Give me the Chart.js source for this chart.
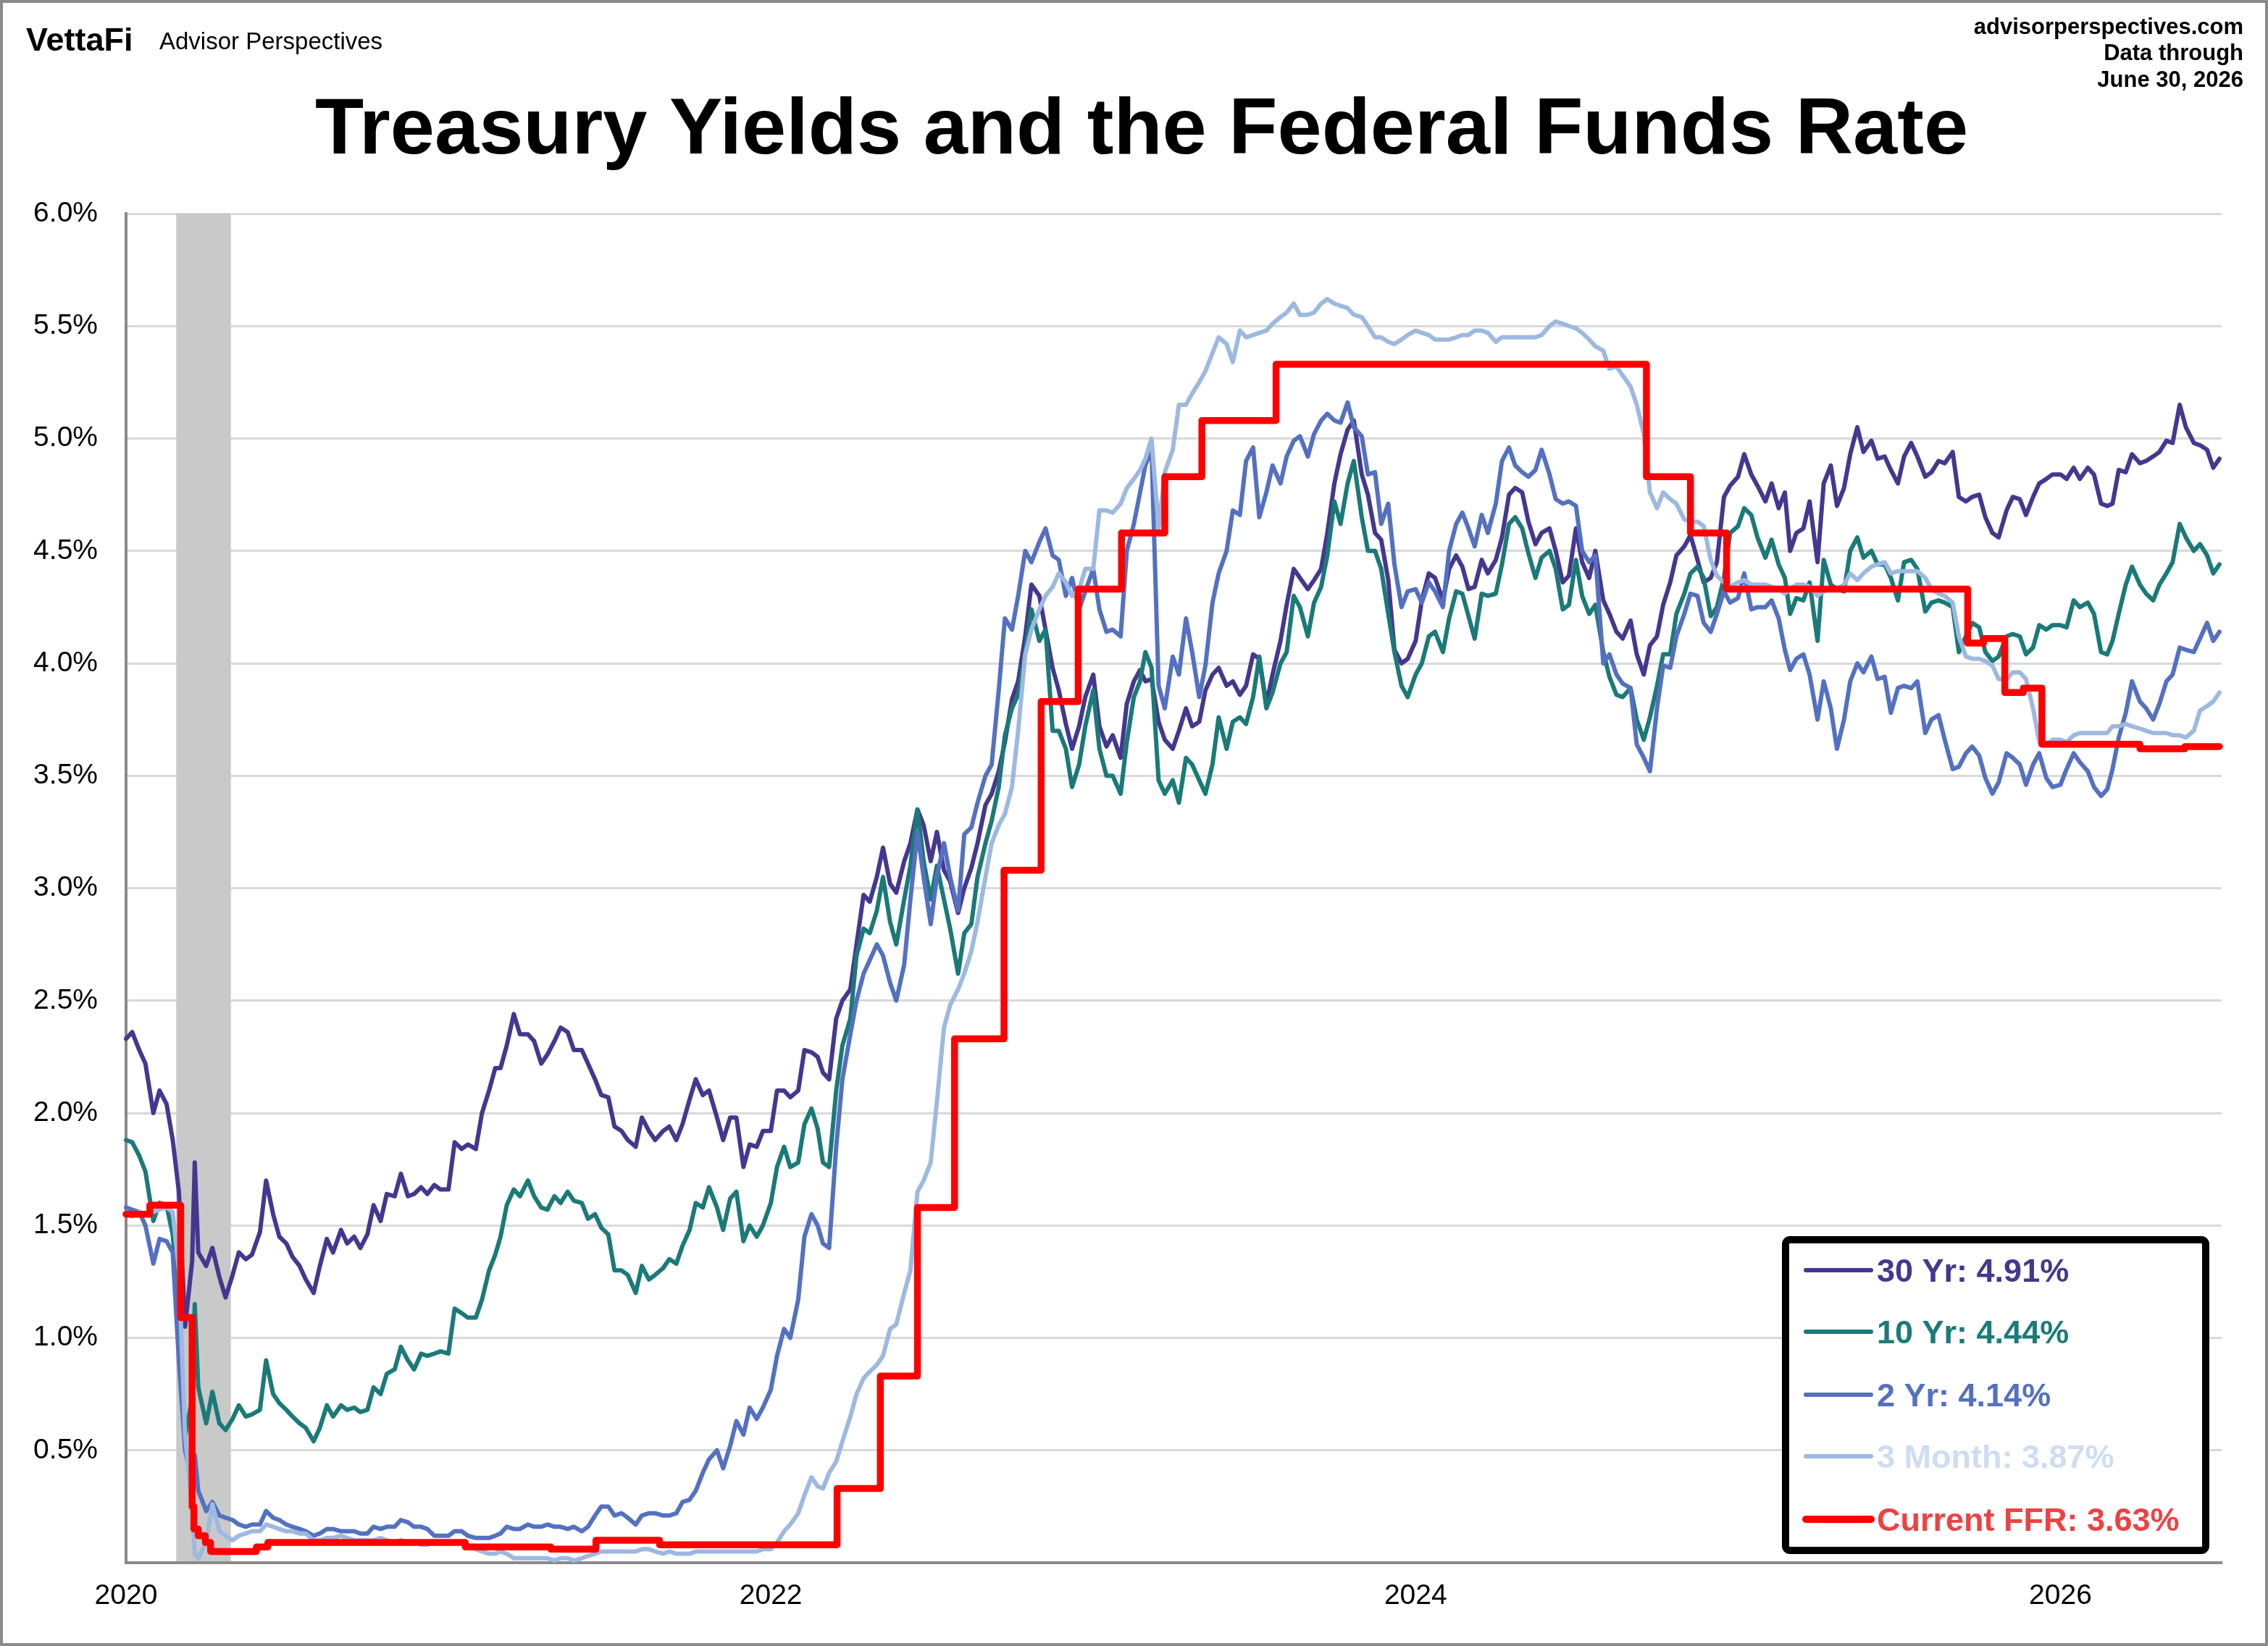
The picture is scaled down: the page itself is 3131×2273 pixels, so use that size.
<!DOCTYPE html>
<html><head><meta charset="utf-8">
<script src="https://cdn.jsdelivr.net/npm/chart.js@4.4.1/dist/chart.umd.min.js"></script>
<style>html,body{margin:0;padding:0;background:#fff;overflow:hidden}canvas{display:block}</style>
</head><body>
<canvas id="c" width="3131" height="2273"></canvas>
<script>
const dates = [
"2020-01-01","2020-01-08","2020-01-16","2020-01-23","2020-02-01","2020-02-08","2020-02-16","2020-02-23","2020-03-01","2020-03-08","2020-03-16","2020-03-19","2020-03-23","2020-04-01","2020-04-08","2020-04-16","2020-04-23","2020-05-01","2020-05-08","2020-05-16","2020-05-23","2020-06-01","2020-06-08","2020-06-16","2020-06-23","2020-07-01","2020-07-08","2020-07-16","2020-07-23","2020-08-01","2020-08-08","2020-08-16","2020-08-23","2020-09-01","2020-09-08","2020-09-16","2020-09-23","2020-10-01","2020-10-08","2020-10-16","2020-10-23","2020-11-01","2020-11-08","2020-11-16","2020-11-23","2020-12-01","2020-12-08","2020-12-16","2020-12-23",
"2021-01-01","2021-01-08","2021-01-16","2021-01-23","2021-02-01","2021-02-08","2021-02-16","2021-02-23","2021-03-01","2021-03-08","2021-03-16","2021-03-23","2021-04-01","2021-04-08","2021-04-16","2021-04-23","2021-05-01","2021-05-08","2021-05-16","2021-05-23","2021-06-01","2021-06-08","2021-06-16","2021-06-23","2021-07-01","2021-07-08","2021-07-16","2021-07-23","2021-08-01","2021-08-08","2021-08-16","2021-08-23","2021-09-01","2021-09-08","2021-09-16","2021-09-23","2021-10-01","2021-10-08","2021-10-16","2021-10-23","2021-11-01","2021-11-08","2021-11-16","2021-11-23","2021-12-01","2021-12-08","2021-12-16","2021-12-23",
"2022-01-01","2022-01-08","2022-01-16","2022-01-23","2022-02-01","2022-02-08","2022-02-16","2022-02-23","2022-03-01","2022-03-08","2022-03-16","2022-03-23","2022-04-01","2022-04-08","2022-04-16","2022-04-23","2022-05-01","2022-05-08","2022-05-16","2022-05-23","2022-06-01","2022-06-08","2022-06-16","2022-06-23","2022-07-01","2022-07-08","2022-07-16","2022-07-23","2022-08-01","2022-08-08","2022-08-16","2022-08-23","2022-09-01","2022-09-08","2022-09-16","2022-09-23","2022-10-01","2022-10-08","2022-10-16","2022-10-23","2022-11-01","2022-11-08","2022-11-16","2022-11-23","2022-12-01","2022-12-08","2022-12-16","2022-12-23",
"2023-01-01","2023-01-08","2023-01-16","2023-01-23","2023-02-01","2023-02-08","2023-02-16","2023-02-23","2023-03-01","2023-03-08","2023-03-16","2023-03-23","2023-04-01","2023-04-08","2023-04-16","2023-04-23","2023-05-01","2023-05-08","2023-05-16","2023-05-23","2023-06-01","2023-06-08","2023-06-16","2023-06-23","2023-07-01","2023-07-08","2023-07-16","2023-07-23","2023-08-01","2023-08-08","2023-08-16","2023-08-23","2023-09-01","2023-09-08","2023-09-16","2023-09-23","2023-10-01","2023-10-08","2023-10-16","2023-10-23","2023-11-01","2023-11-08","2023-11-16","2023-11-23","2023-12-01","2023-12-08","2023-12-16","2023-12-23",
"2024-01-01","2024-01-08","2024-01-16","2024-01-23","2024-02-01","2024-02-08","2024-02-16","2024-02-23","2024-03-01","2024-03-08","2024-03-16","2024-03-23","2024-04-01","2024-04-08","2024-04-16","2024-04-23","2024-05-01","2024-05-08","2024-05-16","2024-05-23","2024-06-01","2024-06-08","2024-06-16","2024-06-23","2024-07-01","2024-07-08","2024-07-16","2024-07-23","2024-08-01","2024-08-08","2024-08-16","2024-08-23","2024-09-01","2024-09-08","2024-09-16","2024-09-23","2024-10-01","2024-10-08","2024-10-16","2024-10-23","2024-11-01","2024-11-08","2024-11-16","2024-11-23","2024-12-01","2024-12-08","2024-12-16","2024-12-23",
"2025-01-01","2025-01-08","2025-01-16","2025-01-23","2025-02-01","2025-02-08","2025-02-16","2025-02-23","2025-03-01","2025-03-08","2025-03-16","2025-03-23","2025-04-01","2025-04-08","2025-04-16","2025-04-23","2025-05-01","2025-05-08","2025-05-16","2025-05-23","2025-06-01","2025-06-08","2025-06-16","2025-06-23","2025-07-01","2025-07-08","2025-07-16","2025-07-23","2025-08-01","2025-08-08","2025-08-16","2025-08-23","2025-09-01","2025-09-08","2025-09-16","2025-09-23","2025-10-01","2025-10-08","2025-10-16","2025-10-23","2025-11-01","2025-11-08","2025-11-16","2025-11-23","2025-12-01","2025-12-08","2025-12-16","2025-12-23",
"2026-01-01","2026-01-08","2026-01-16","2026-01-23","2026-02-01","2026-02-08","2026-02-16","2026-02-23","2026-03-01","2026-03-08","2026-03-16","2026-03-23","2026-04-01","2026-04-08","2026-04-16","2026-04-23","2026-05-01","2026-05-08","2026-05-16","2026-05-23","2026-06-01","2026-06-08","2026-06-16","2026-06-23","2026-06-30"
];
const yield30 = [
2.33,2.36,2.28,2.22, 2.00,2.10,2.04,1.88, 1.65,1.05,1.34,1.78,1.38, 1.32,1.40,1.27,1.18, 1.28,1.38,1.35,1.37, 1.47,1.70,1.55,1.45, 1.42,1.36,1.32,1.26, 1.20,1.32,1.44,1.38, 1.48,1.42,1.45,1.40, 1.46,1.59,1.52,1.64, 1.63,1.73,1.63,1.64, 1.67,1.64,1.68,1.66,
1.66,1.87,1.84,1.86, 1.84,2.00,2.10,2.20, 2.20,2.30,2.44,2.35, 2.35,2.32,2.22,2.26, 2.32,2.38,2.36,2.28, 2.28,2.22,2.15,2.08, 2.07,1.94,1.92,1.88, 1.85,1.98,1.92,1.88, 1.92,1.94,1.88,1.95, 2.06,2.15,2.08,2.10, 1.98,1.88,1.98,1.98, 1.76,1.86,1.85,1.92,
1.92,2.10,2.10,2.07, 2.10,2.28,2.27,2.25, 2.18,2.15,2.42,2.50, 2.55,2.75,2.97,2.94, 3.05,3.18,3.02,2.98, 3.12,3.20,3.35,3.28, 3.12,3.25,3.08,3.03, 2.89,3.00,3.09,3.20, 3.37,3.42,3.52,3.65, 3.84,3.92,4.12,4.35, 4.30,4.15,3.98,3.88, 3.73,3.62,3.72,3.85,
3.95,3.72,3.63,3.68, 3.58,3.82,3.92,3.97, 3.92,3.93,3.74,3.66, 3.62,3.70,3.80,3.72, 3.74,3.88,3.95,3.98, 3.90,3.92,3.86,3.90, 4.04,4.02,3.82,3.95, 4.10,4.26,4.42,4.38, 4.33,4.37,4.42,4.58, 4.80,4.93,5.04,5.08, 4.84,4.75,4.58,4.55, 4.37,4.06,4.00,4.02,
4.10,4.28,4.40,4.38, 4.28,4.42,4.48,4.43, 4.33,4.34,4.46,4.40, 4.46,4.56,4.75,4.78, 4.76,4.63,4.53,4.58, 4.60,4.50,4.36,4.39, 4.60,4.45,4.38,4.50, 4.28,4.22,4.14,4.11, 4.19,4.04,3.95,4.08, 4.12,4.26,4.36,4.48, 4.52,4.57,4.46,4.36, 4.38,4.45,4.74,4.79,
4.83,4.93,4.84,4.79, 4.72,4.80,4.69,4.76, 4.50,4.58,4.60,4.72, 4.45,4.80,4.88,4.70, 4.78,4.93,5.05,4.94, 4.99,4.91,4.92,4.86, 4.80,4.92,4.98,4.92, 4.83,4.85,4.90,4.89, 4.94,4.74,4.72,4.74, 4.75,4.65,4.58,4.56, 4.68,4.74,4.73,4.66, 4.74,4.80,4.82,4.84,
4.84,4.82,4.87,4.82, 4.87,4.84,4.71,4.70, 4.71,4.86,4.85,4.93, 4.89,4.90,4.92,4.94, 4.99,4.98,5.15,5.05, 4.98,4.97,4.95,4.87, 4.91
];
const yield10 = [
1.88,1.87,1.81,1.74, 1.52,1.60,1.59,1.46, 1.15,0.56,0.73,1.15,0.78, 0.62,0.76,0.62,0.59, 0.64,0.70,0.65,0.66, 0.68,0.90,0.75,0.71, 0.68,0.65,0.62,0.60, 0.54,0.60,0.70,0.65, 0.70,0.68,0.69,0.67, 0.68,0.78,0.75,0.84, 0.86,0.96,0.90,0.86, 0.93,0.92,0.93,0.94,
0.93,1.13,1.11,1.09, 1.09,1.17,1.30,1.37, 1.45,1.59,1.66,1.63, 1.70,1.63,1.58,1.57, 1.63,1.60,1.65,1.61, 1.60,1.53,1.55,1.49, 1.46,1.30,1.30,1.28, 1.20,1.32,1.26,1.28, 1.31,1.35,1.33,1.41, 1.48,1.60,1.58,1.67, 1.58,1.48,1.62,1.65, 1.43,1.50,1.45,1.50,
1.60,1.76,1.85,1.76, 1.78,1.95,2.02,1.93, 1.78,1.76,2.10,2.30, 2.42,2.70,2.82,2.80, 2.90,3.05,2.85,2.75, 2.95,3.10,3.35,3.12, 2.95,3.10,2.95,2.82, 2.62,2.80,2.84,3.05, 3.20,3.30,3.45,3.68, 3.80,3.86,4.05,4.24, 4.10,4.15,3.70,3.70, 3.62,3.45,3.55,3.72,
3.88,3.62,3.50,3.50, 3.42,3.65,3.85,3.92, 4.05,3.98,3.48,3.42, 3.48,3.38,3.58,3.55, 3.48,3.42,3.55,3.76, 3.62,3.74,3.76,3.73, 3.85,4.03,3.80,3.87, 4.00,4.05,4.30,4.25, 4.12,4.27,4.34,4.48, 4.72,4.62,4.80,4.90, 4.65,4.50,4.50,4.42, 4.22,4.05,3.90,3.85,
3.95,4.00,4.12,4.14, 4.05,4.20,4.32,4.31, 4.21,4.11,4.31,4.30, 4.31,4.44,4.62,4.65, 4.60,4.49,4.38,4.47, 4.50,4.42,4.24,4.26, 4.46,4.30,4.22,4.26, 4.05,3.94,3.86,3.85, 3.89,3.75,3.66,3.76, 3.90,4.04,4.04,4.22, 4.31,4.40,4.43,4.38, 4.21,4.25,4.38,4.58,
4.61,4.69,4.66,4.56, 4.47,4.55,4.44,4.38, 4.22,4.29,4.28,4.36, 4.10,4.46,4.35,4.33, 4.32,4.50,4.56,4.47, 4.50,4.44,4.44,4.38, 4.28,4.45,4.46,4.42, 4.23,4.27,4.28,4.27, 4.25,4.05,4.12,4.18, 4.16,4.05,4.01,4.03, 4.12,4.13,4.12,4.04, 4.07,4.17,4.15,4.17,
4.17,4.16,4.28,4.25, 4.27,4.22,4.05,4.04, 4.10,4.22,4.35,4.43, 4.35,4.31,4.28,4.35, 4.40,4.45,4.62,4.56, 4.50,4.53,4.48,4.40, 4.44
];
const yield2 = [
1.58,1.57,1.56,1.50, 1.33,1.44,1.43,1.38, 0.90,0.50,0.36,0.48,0.32, 0.23,0.27,0.21,0.20, 0.19,0.17,0.16,0.17, 0.17,0.23,0.20,0.19, 0.17,0.16,0.15,0.14, 0.12,0.13,0.15,0.15, 0.14,0.14,0.14,0.13, 0.13,0.16,0.15,0.16, 0.16,0.19,0.18,0.16, 0.16,0.15,0.12,0.12,
0.12,0.14,0.14,0.12, 0.11,0.11,0.11,0.12, 0.13,0.16,0.15,0.15, 0.17,0.16,0.16,0.17, 0.16,0.16,0.15,0.16, 0.14,0.16,0.21,0.25, 0.25,0.21,0.22,0.20, 0.17,0.21,0.22,0.22, 0.21,0.21,0.22,0.27, 0.28,0.32,0.40,0.46, 0.50,0.42,0.52,0.63, 0.57,0.69,0.64,0.69,
0.77,0.92,1.04,1.00, 1.17,1.45,1.55,1.50, 1.42,1.40,1.85,2.15, 2.35,2.50,2.62,2.68, 2.75,2.70,2.58,2.50, 2.66,2.95,3.25,3.05, 2.84,3.05,3.20,3.05, 2.90,3.24,3.27,3.38, 3.50,3.55,3.88,4.20, 4.15,4.30,4.50,4.45, 4.54,4.60,4.48,4.46, 4.30,4.38,4.24,4.32,
4.42,4.24,4.14,4.15, 4.12,4.50,4.62,4.76, 4.88,4.95,3.90,3.80, 4.03,3.95,4.20,4.05, 3.85,3.99,4.27,4.40, 4.50,4.68,4.66,4.90, 4.96,4.65,4.76,4.88, 4.80,4.92,4.99,5.01, 4.92,5.02,5.08,5.11, 5.08,5.07,5.16,5.05, 5.01,4.84,4.85,4.62, 4.71,4.44,4.25,4.32,
4.33,4.27,4.36,4.32, 4.25,4.50,4.62,4.67, 4.60,4.52,4.66,4.58, 4.71,4.90,4.96,4.88, 4.85,4.83,4.86,4.95, 4.84,4.73,4.71,4.72, 4.70,4.50,4.45,4.48, 4.00,4.04,3.95,3.91, 3.89,3.64,3.58,3.52, 3.80,3.99,3.98,4.12, 4.22,4.31,4.30,4.18, 4.14,4.22,4.32,4.27,
4.29,4.40,4.24,4.25, 4.25,4.28,4.20,4.06, 3.97,4.02,4.04,3.95, 3.75,3.92,3.80,3.62, 3.75,3.92,4.00,3.96, 4.03,3.93,3.94,3.78, 3.89,3.90,3.89,3.92, 3.69,3.75,3.77,3.66, 3.53,3.54,3.60,3.63, 3.59,3.49,3.42,3.47, 3.60,3.58,3.55,3.46, 3.55,3.60,3.49,3.45,
3.46,3.53,3.60,3.56, 3.52,3.45,3.41,3.44, 3.53,3.67,3.78,3.92, 3.83,3.80,3.75,3.82, 3.92,3.95,4.07,4.06, 4.05,4.11,4.18,4.10, 4.14
];
const yield3m = [
1.55,1.54,1.56,1.55, 1.56,1.57,1.58,1.56, 1.30,0.57,0.24,0.04,0.02, 0.09,0.26,0.14,0.12, 0.10,0.12,0.13,0.14, 0.14,0.17,0.16,0.15, 0.14,0.14,0.13,0.13, 0.10,0.10,0.11,0.11, 0.12,0.11,0.10,0.10, 0.10,0.10,0.11,0.10, 0.09,0.10,0.09,0.09, 0.08,0.08,0.09,0.09,
0.09,0.09,0.09,0.08, 0.06,0.05,0.04,0.04, 0.05,0.04,0.02,0.02, 0.02,0.02,0.02,0.02, 0.01,0.02,0.02,0.01, 0.02,0.03,0.04,0.05, 0.05,0.05,0.05,0.05, 0.05,0.06,0.06,0.05, 0.04,0.05,0.04,0.04, 0.04,0.05,0.05,0.05, 0.05,0.05,0.05,0.05, 0.05,0.05,0.05,0.06,
0.06,0.09,0.14,0.17, 0.22,0.30,0.38,0.34, 0.33,0.40,0.45,0.54, 0.65,0.75,0.82,0.85, 0.88,0.92,1.04,1.06, 1.20,1.30,1.65,1.70, 1.78,2.05,2.38,2.48, 2.55,2.62,2.72,2.85, 3.05,3.20,3.28,3.33, 3.45,3.70,4.04,4.15, 4.24,4.30,4.34,4.40, 4.36,4.30,4.33,4.42,
4.42,4.68,4.68,4.67, 4.71,4.78,4.82,4.86, 4.91,5.00,4.60,4.85, 4.95,5.15,5.15,5.20, 5.25,5.30,5.38,5.45, 5.42,5.34,5.48,5.45, 5.46,5.47,5.48,5.51, 5.54,5.56,5.60,5.55, 5.55,5.56,5.60,5.62, 5.60,5.59,5.58,5.55, 5.54,5.50,5.45,5.45, 5.43,5.42,5.44,5.46,
5.48,5.47,5.46,5.44, 5.44,5.44,5.45,5.46, 5.46,5.48,5.48,5.47, 5.43,5.45,5.45,5.45, 5.45,5.45,5.45,5.46, 5.50,5.52,5.51,5.50, 5.49,5.47,5.44,5.41, 5.39,5.31,5.32,5.28, 5.23,5.15,5.02,4.76, 4.69,4.76,4.73,4.71, 4.64,4.63,4.63,4.61, 4.46,4.39,4.36,4.34,
4.36,4.37,4.35,4.35, 4.35,4.34,4.33,4.31, 4.33,4.35,4.35,4.34, 4.30,4.32,4.33,4.33, 4.35,4.40,4.37,4.40, 4.43,4.44,4.45,4.40, 4.41,4.41,4.41,4.41, 4.38,4.33,4.31,4.30, 4.27,4.12,4.03,4.02, 4.02,4.01,3.99,3.93, 3.93,3.96,3.96,3.93, 3.80,3.65,3.64,3.66,
3.66,3.65,3.68,3.69, 3.69,3.69,3.69,3.69, 3.72,3.72,3.73,3.72, 3.71,3.70,3.69,3.69, 3.69,3.68,3.68,3.67, 3.70,3.79,3.81,3.83, 3.87
];
const ffrDates = ["2020-01-01","2020-01-28","2020-03-03","2020-03-16","2020-03-18","2020-03-23","2020-03-31","2020-04-06","2020-05-28","2020-06-10","2021-01-20","2021-04-27","2021-06-17","2021-08-28","2022-03-17","2022-05-05","2022-06-16","2022-07-28","2022-09-22","2022-11-03","2022-12-15","2023-02-02","2023-03-23","2023-05-04","2023-07-27","2024-09-19","2024-11-08","2024-12-19","2025-09-18","2025-10-06","2025-10-30","2025-11-20","2025-12-11","2026-04-01","2026-05-22","2026-06-30"];
const ffrValues = [1.55,1.59,1.09,0.25,0.15,0.12,0.09,0.05,0.07,0.09,0.07,0.06,0.10,0.08,0.33,0.83,1.58,2.33,3.08,3.83,4.33,4.58,4.83,5.08,5.33,4.83,4.58,4.33,4.09,4.11,3.87,3.89,3.64,3.62,3.63,3.63];
const seriesNames = ["30 Yr","10 Yr","2 Yr","3 Month","Current FFR"];
const xTickYears = [2020, 2022, 2024, 2026];
const xTickLabels = ["2020","2022","2024","2026"];
const yTickLabels = ["","0.5%","1.0%","1.5%","2.0%","2.5%","3.0%","3.5%","4.0%","4.5%","5.0%","5.5%","6.0%"];
const recession = ["2020-02-27","2020-04-29"];
const titleText = "Treasury Yields and the Federal Funds Rate";
const sourceLines = ["advisorperspectives.com","Data through","June 30, 2026"];

function toYear(s){const p=s.split('-').map(Number);const a=Date.UTC(p[0],0,1),b=Date.UTC(p[0]+1,0,1);return p[0]+(Date.UTC(p[0],p[1]-1,p[2])-a)/(b-a);}
const FONT = "'Liberation Sans', Arial, sans-serif";
const lineColors = ['#45378F','#1A7A78','#5470C1','#9DB9E1','#FF0000'];
const textColors = ['#45378F','#1B7B79','#5470C0','#CFDDF1','#EE4242'];
const yieldSeries = [yield30, yield10, yield2, yield3m];

const datasets = yieldSeries.map((vals, k) => ({
  label: seriesNames[k],
  data: dates.map((d, i) => ({x: toYear(d), y: vals[i]})),
  borderColor: lineColors[k], borderWidth: 6, pointRadius: 0, tension: 0,
  borderJoinStyle: 'round', borderCapStyle: 'round', order: 4 - k, clip: false
}));
datasets.push({
  label: seriesNames[4],
  data: ffrDates.map((d, i) => ({x: toYear(d), y: ffrValues[i]})),
  borderColor: lineColors[4], borderWidth: 9.5, pointRadius: 0, stepped: true,
  borderJoinStyle: 'round', borderCapStyle: 'round', order: 0, clip: false
});

const decor = {
  id: 'decor',
  beforeDatasetsDraw(chart) {
    const {ctx, chartArea, scales} = chart;
    const x0 = scales.x.getPixelForValue(toYear(recession[0]));
    const x1 = scales.x.getPixelForValue(toYear(recession[1]));
    ctx.save();
    ctx.fillStyle = '#C9C9C9';
    ctx.fillRect(x0, chartArea.top, x1 - x0, chartArea.bottom - chartArea.top - 2);
    ctx.restore();
  },
  afterDraw(chart) {
    const ctx = chart.ctx;
    ctx.save();
    ctx.fillStyle = '#000';
    ctx.textBaseline = 'alphabetic';
    ctx.textAlign = 'left';
    ctx.font = 'bold 45px ' + FONT;
    ctx.fillText('VettaFi', 36, 70);
    ctx.font = '33px ' + FONT;
    ctx.fillText('Advisor Perspectives', 220, 68);
    ctx.textAlign = 'right';
    ctx.font = 'bold 31px ' + FONT;
    [47, 83, 120].forEach((y, i) => ctx.fillText(sourceLines[i], 3097, y));
    ctx.textAlign = 'center';
    ctx.font = 'bold 110px ' + FONT;
    ctx.fillText(titleText, 1576, 212);

    ctx.beginPath();
    ctx.roundRect(2465, 1712, 580, 429, 6);
    ctx.fillStyle = '#fff';
    ctx.fill();
    ctx.lineWidth = 10;
    ctx.strokeStyle = '#000';
    ctx.stroke();
    const ys = [1754, 1839, 1926, 2011, 2098];
    const lastVals = [yield30, yield10, yield2, yield3m, ffrValues].map(a => a[a.length - 1]);
    ctx.textAlign = 'left';
    ctx.font = 'bold 45px ' + FONT;
    ys.forEach((y, k) => {
      ctx.beginPath();
      ctx.moveTo(2493, y); ctx.lineTo(2583, y);
      ctx.lineCap = 'round';
      ctx.lineWidth = k === 4 ? 10 : 6;
      ctx.strokeStyle = lineColors[k];
      ctx.stroke();
      ctx.fillStyle = textColors[k];
      ctx.fillText(seriesNames[k] + ': ' + lastVals[k].toFixed(2) + '%', 2591, y + 16);
    });

    ctx.lineWidth = 4;
    ctx.strokeStyle = '#8A8A8A';
    ctx.strokeRect(2, 2, 3127, 2269);
    ctx.restore();
  }
};

Chart.defaults.font.family = FONT;
new Chart(document.getElementById('c'), {
  type: 'line',
  data: { datasets },
  options: {
    responsive: false, animation: false, devicePixelRatio: 1,
    layout: { padding: { left: 0, right: 64, top: 295, bottom: 0 } },
    plugins: { legend: { display: false }, tooltip: { enabled: false } },
    scales: {
      x: {
        type: 'linear', min: 2020, max: 2026.5,
        grid: { display: false, drawTicks: false },
        border: { display: true, color: '#8A8A8A', width: 4 },
        ticks: { includeBounds: false, autoSkip: false, maxRotation: 0, padding: 23, color: '#000', font: { size: 39 },
          callback: (v) => { const i = xTickYears.indexOf(v); return i >= 0 ? xTickLabels[i] : ''; } },
        afterBuildTicks: (s) => { s.ticks = xTickYears.map(v => ({ value: v })); },
        afterFit: (s) => { s.height = 115; }
      },
      y: {
        min: 0, max: 6,
        grid: { drawTicks: false, lineWidth: 3, color: (c) => (c.tick && c.tick.value === 0) ? 'rgba(0,0,0,0)' : '#D9D9D9' },
        border: { display: true, color: '#8A8A8A', width: 4 },
        ticks: { stepSize: 0.5, padding: 39, color: '#000', font: { size: 39 },
          callback: (v, i) => yTickLabels[i] },
        afterFit: (s) => { s.width = 174; }
      }
    }
  },
  plugins: [decor]
});
</script>
</body></html>
